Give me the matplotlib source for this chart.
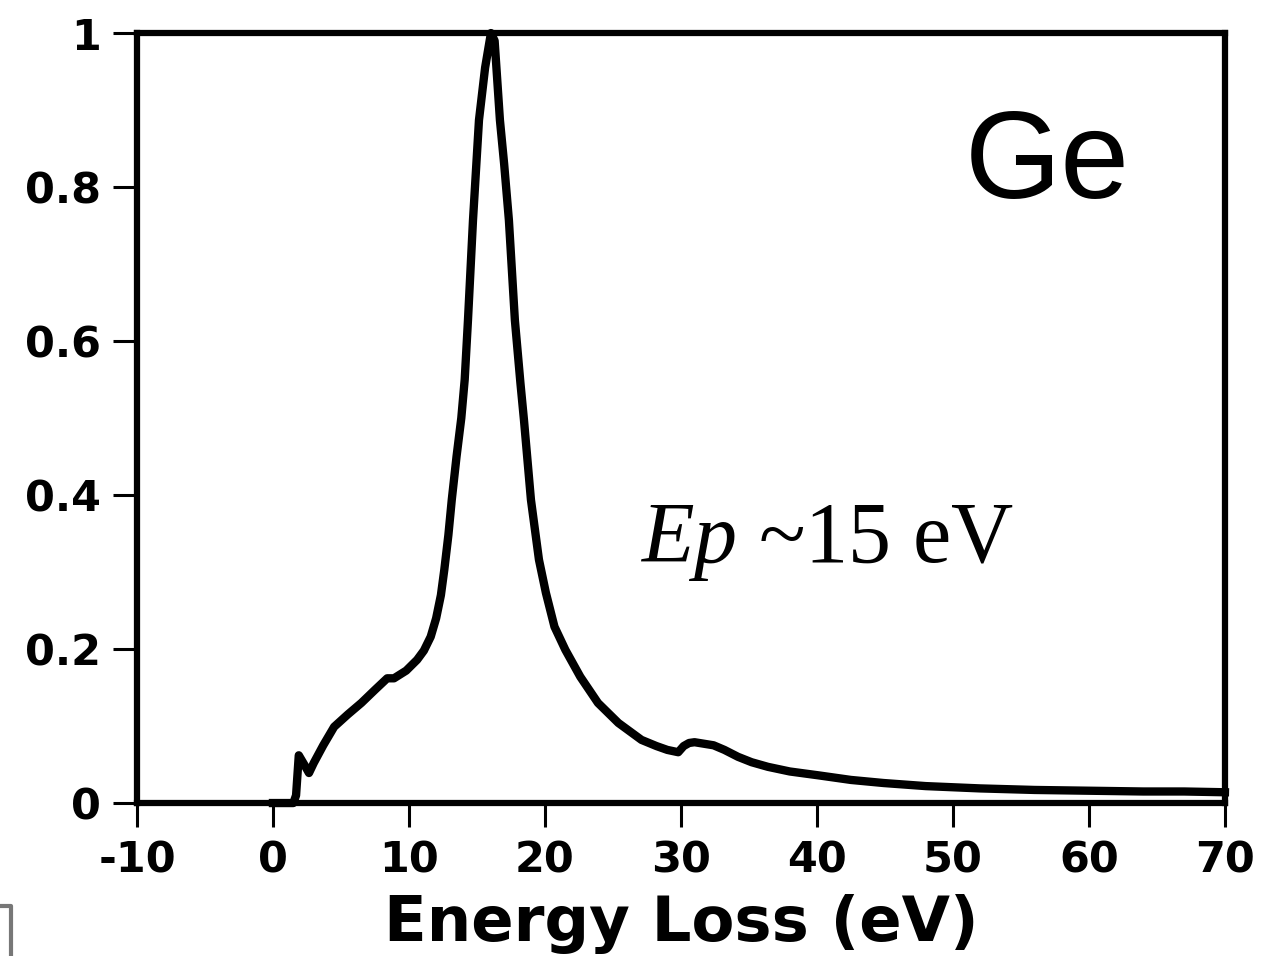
import matplotlib
matplotlib.use('Agg')
import matplotlib.pyplot as plt
from matplotlib.lines import Line2D

# curve
energy = [0, 1.5, 1.7, 1.9, 2.3, 2.65, 3.0, 3.7, 4.5, 5.5, 6.5, 7.5, 8.4, 8.9,
          9.8, 10.6, 11.1, 11.6, 12.0, 12.35, 12.6, 12.9, 13.15, 13.5, 13.85,
          14.1, 14.34, 14.71, 15.15, 15.6, 16.03, 16.3, 16.69, 17.0, 17.35,
          17.79, 18.2, 18.46, 18.97, 19.56, 20.07, 20.7, 21.5, 22.6, 23.9,
          25.4, 27.1, 28.2, 29.0, 29.8, 30.2, 30.6, 31.0, 31.7, 32.4, 33.2,
          34.2, 35.2, 36.4, 38.0, 40.1, 42.5, 44.9, 48, 52, 56, 60, 64, 67, 70]
intensity = [0, 0, 0.01, 0.062, 0.05, 0.039, 0.052, 0.075, 0.099, 0.115, 0.13,
             0.147, 0.162, 0.162, 0.172, 0.186, 0.198, 0.216, 0.24, 0.27,
             0.303, 0.348, 0.394, 0.45, 0.5, 0.55, 0.627, 0.757, 0.887, 0.955,
             1.0, 0.99, 0.887, 0.83, 0.757, 0.627, 0.545, 0.497, 0.394, 0.316,
             0.273, 0.229, 0.199, 0.164, 0.13, 0.104, 0.082, 0.074, 0.069,
             0.066, 0.074, 0.078, 0.079, 0.077, 0.075, 0.069, 0.06, 0.053,
             0.047, 0.041, 0.036, 0.03, 0.026, 0.022, 0.019, 0.017, 0.016,
             0.015, 0.015, 0.014]

xticks = [-10, 0, 10, 20, 30, 40, 50, 60, 70]
xtick_labels = ['-10', '0', '10', '20', '30', '40', '50', '60', '70']
yticks = [0, 0.2, 0.4, 0.6, 0.8, 1]
ytick_labels = ['0', '0.2', '0.4', '0.6', '0.8', '1']

plt.rcParams['mathtext.fontset'] = 'custom'
plt.rcParams['mathtext.it'] = 'Liberation Serif:italic'
plt.rcParams['mathtext.rm'] = 'Liberation Serif'

fig = plt.figure(figsize=(12.61, 9.56), dpi=100)
ax = fig.add_axes([0.1086, 0.160, 0.8628, 0.8054])

ax.plot(energy, intensity, color='black', lw=6, solid_joinstyle='round',
        clip_on=False, zorder=3)

ax.set_xlim(-10, 70)
ax.set_ylim(0, 1)
ax.set_xticks(xticks)
ax.set_xticklabels(xtick_labels, fontfamily='DejaVu Sans', fontweight='bold', fontsize=31)
ax.set_yticks(yticks)
ax.set_yticklabels(ytick_labels, fontfamily='DejaVu Sans', fontweight='bold', fontsize=31)
ax.tick_params(direction='out', length=17, width=2.2, pad=9, color='black')

for s in ax.spines.values():
    s.set_linewidth(4.5)
    s.set_color('black')

ax.set_xlabel('Energy Loss (eV)', fontfamily='DejaVu Sans', fontweight='bold',
              fontsize=45, labelpad=9)

ax.text(50.9, 0.786, 'Ge', fontfamily='Liberation Sans', fontsize=89,
        ha='left', va='baseline')
ax.text(27.0, 0.313, r'$Ep$ ~15 eV', fontfamily='Liberation Serif', fontsize=62,
        ha='left', va='baseline')

# grey corner mark in the bottom-left of the page
fig.add_artist(Line2D([0, 11 / 1261, 11 / 1261], [50 / 956, 50 / 956, 0],
                      transform=fig.transFigure, color='#777777', lw=3))

fig.savefig('out.png', dpi=100)
